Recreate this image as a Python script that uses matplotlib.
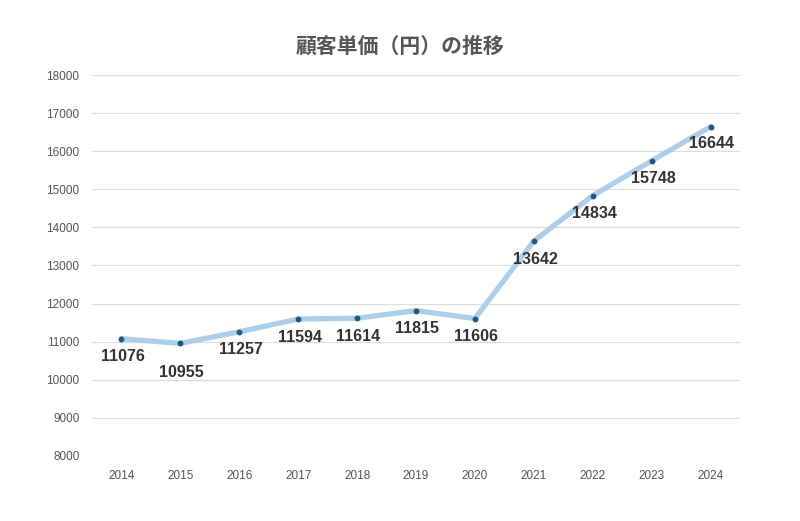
import matplotlib.pyplot as plt
import numpy as np

plt.rcParams['font.family'] = ['Noto Sans CJK JP', 'DejaVu Sans']

# data
years = ['2014', '2015', '2016', '2017', '2018', '2019', '2020', '2021', '2022', '2023', '2024']
price = [11076, 10955, 11257, 11594, 11614, 11815, 11606, 13642, 14834, 15748, 16644]
# label offset below each point (points), 2015 sits lower
label_drop = [13, 21, 13, 13, 13, 13, 13, 13, 13, 13, 12]

x = np.arange(len(years))

fig = plt.figure(figsize=(8, 5.21), dpi=100)
ax = fig.add_axes([0.115, 0.125, 0.81, 0.731])

ax.plot(x, price, color='#aecde9', linewidth=3.8, solid_capstyle='round', zorder=2)
ax.plot(x, price, 'o', color='#1d5a82', markersize=3.2, zorder=3)

for xi, v, d in zip(x, price, label_drop):
    t = ax.annotate(str(v), (xi, v), xytext=(1, -d), textcoords='offset points',
                    ha='center', va='center', fontsize=11.5, fontweight='bold',
                    color='#333333', family=['Liberation Sans', 'DejaVu Sans'])
    t.set_fontstretch('condensed')

ax.set_xlim(-0.5, len(years) - 0.5)
ax.set_ylim(8000, 18000)
ax.set_yticks(np.arange(8000, 18001, 1000))
ax.set_xticks(x)
ax.set_xticklabels(years)

ax.grid(axis='y', color='#dddddd', linewidth=0.9)
ax.set_axisbelow(True)
for s in ax.spines.values():
    s.set_visible(False)
ax.tick_params(length=0, labelsize=8.5, labelcolor='#555555')
ax.tick_params(axis='y', pad=9)
ax.tick_params(axis='x', pad=10)
for lab in ax.get_xticklabels() + ax.get_yticklabels():
    lab.set_family(['Liberation Sans', 'DejaVu Sans'])

fig.text(0.5, 0.912, '顧客単価（円）の推移', ha='center', va='center',
         fontsize=15, fontweight='bold', color='#555555')

fig.savefig('out.png', dpi=100)
